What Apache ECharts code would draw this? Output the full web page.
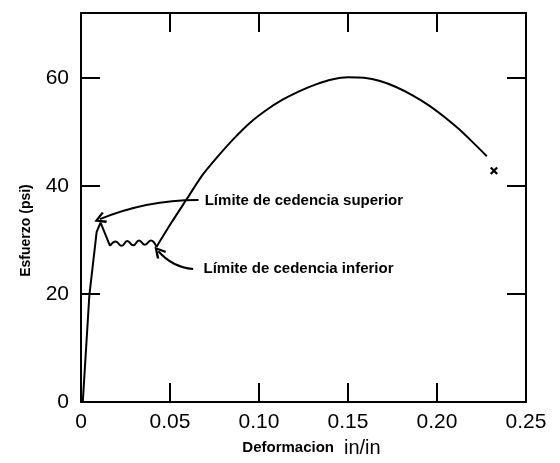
<!DOCTYPE html>
<html>
<head>
<meta charset="utf-8">
<script src="https://cdn.jsdelivr.net/npm/echarts@6/dist/echarts.min.js"></script>
<style>
html, body { margin: 0; padding: 0; background: #fff; }
#grafico { width: 560px; height: 463px; }
</style>
</head>
<body>
<div id="grafico"></div>
<script>
// deformacion (in/in) vs esfuerzo (psi)
var tramoElastico = [[0.001, 0], [0.0047, 19.8], [0.0088, 31.5], [0.011, 33.2], [0.0163, 28.9]];
var tramoCedencia = [[0.0163, 28.9], [0.0195, 29.7], [0.0228, 28.9], [0.026, 29.8], [0.0293, 29.0],
    [0.0326, 29.9], [0.0359, 29.1], [0.0392, 29.9], [0.0424, 28.7]];
var tramoPlastico = [[0.0424, 28.7], [0.051, 33.3], [0.0597, 37.7], [0.068, 41.9], [0.077, 45.5],
    [0.086, 48.8], [0.095, 51.7], [0.104, 54.0], [0.113, 55.9], [0.1225, 57.5], [0.132, 58.8],
    [0.141, 59.7], [0.150, 60.1], [0.159, 60.0], [0.168, 59.4], [0.177, 58.3], [0.186, 56.8],
    [0.195, 55.0], [0.204, 52.8], [0.212, 50.6], [0.220, 48.1], [0.228, 45.5]];
var puntoRotura = [[0.232, 42.8]];

var flechaSuperior = [[0.066, 37.4], [0.0106, 33.85]];
var flechaInferior = [[0.063, 24.6], [0.0435, 27.9]];
var textos = [
    ['Límite de cedencia superior', 0.0695, 37.3],
    ['Límite de cedencia inferior', 0.0688, 24.6]
];

var chartDom = document.getElementById('grafico');
var myChart = echarts.init(chartDom);
var option;

var fuente = 'Liberation Sans, Arial, sans-serif';
var linea = { color: '#000', width: 2, opacity: 1 };
var marca = { show: true, inside: true, length: 19, lineStyle: linea };

function ejeX(pos, conTexto) {
    return {
        type: 'value',
        position: pos,
        min: 0,
        max: 0.25,
        interval: 0.05,
        axisLine: { onZero: false, lineStyle: linea },
        axisTick: marca,
        splitLine: { show: false },
        axisLabel: {
            show: conTexto,
            fontSize: 21,
            fontFamily: fuente,
            color: '#000',
            margin: 10,
            formatter: function(v) { return v === 0 ? '0' : v.toFixed(2); }
        }
    };
}

function ejeY(pos, conTexto) {
    return {
        type: 'value',
        position: pos,
        min: 0,
        max: 72,
        interval: 20,
        axisLine: { onZero: false, lineStyle: linea },
        axisTick: marca,
        splitLine: { show: false },
        axisLabel: {
            show: conTexto,
            fontSize: 21,
            fontFamily: fuente,
            color: '#000',
            margin: 12,
            formatter: function(v) { return v % 20 === 0 ? String(v) : ''; }
        }
    };
}

var xInferior = ejeX('bottom', true);
xInferior.name = '{a|Deformacion}   {b|in/in}';
xInferior.nameLocation = 'middle';
xInferior.nameGap = 36;
xInferior.nameTextStyle = {
    padding: [0, 0, 0, 16],
    rich: {
        a: { fontSize: 15, fontWeight: 'bold', fontFamily: fuente, color: '#000' },
        b: { fontSize: 20, fontFamily: fuente, color: '#000' }
    }
};

var yIzquierdo = ejeY('left', true);
yIzquierdo.name = 'Esfuerzo (psi)';
yIzquierdo.nameLocation = 'middle';
yIzquierdo.nameGap = 48;
yIzquierdo.nameTextStyle = {
    fontSize: 14,
    fontWeight: 'bold',
    fontFamily: fuente,
    color: '#000',
    padding: [0, 46, 0, 0]
};

var flecha = 'path://M5,0 L10,8 L8.4,9.2 L5,3.4 L1.6,9.2 L0,8 Z';

option = {
    animation: false,
    backgroundColor: '#fff',
    grid: { left: 81, right: 34, top: 13, bottom: 59 },
    xAxis: [xInferior, ejeX('top', false)],
    yAxis: [yIzquierdo, ejeY('right', false)],
    series: [{
            type: 'line',
            data: tramoElastico,
            showSymbol: false,
            lineStyle: linea
        },
        {
            type: 'line',
            data: tramoCedencia,
            smooth: 0.5,
            showSymbol: false,
            lineStyle: linea
        },
        {
            type: 'line',
            data: tramoPlastico,
            smooth: 0.25,
            showSymbol: false,
            lineStyle: linea
        },
        {
            type: 'scatter',
            data: puntoRotura,
            symbol: 'path://M0,2 L2,0 L10,8 L8,10 Z M8,0 L10,2 L2,10 L0,8 Z',
            symbolSize: 8,
            itemStyle: { color: '#000', opacity: 1 }
        },
        {
            type: 'lines',
            coordinateSystem: 'cartesian2d',
            symbol: ['none', flecha],
            symbolSize: 12,
            lineStyle: { color: '#000', width: 2, opacity: 1, curveness: -0.1 },
            data: [{ coords: flechaSuperior }]
        },
        {
            type: 'lines',
            coordinateSystem: 'cartesian2d',
            symbol: ['none', flecha],
            symbolSize: 12,
            lineStyle: { color: '#000', width: 2, opacity: 1, curveness: 0.2 },
            data: [{ coords: flechaInferior }]
        },
        {
            type: 'scatter',
            data: textos.map(function(t) { return { name: t[0], value: [t[1], t[2]] }; }),
            symbolSize: 0,
            itemStyle: { opacity: 1 },
            label: {
                show: true,
                position: 'right',
                distance: 0,
                formatter: '{b}',
                fontSize: 15,
                fontWeight: 'bold',
                fontFamily: fuente,
                color: '#000'
            }
        }
    ]
};

option && myChart.setOption(option);
</script>
</body>
</html>
